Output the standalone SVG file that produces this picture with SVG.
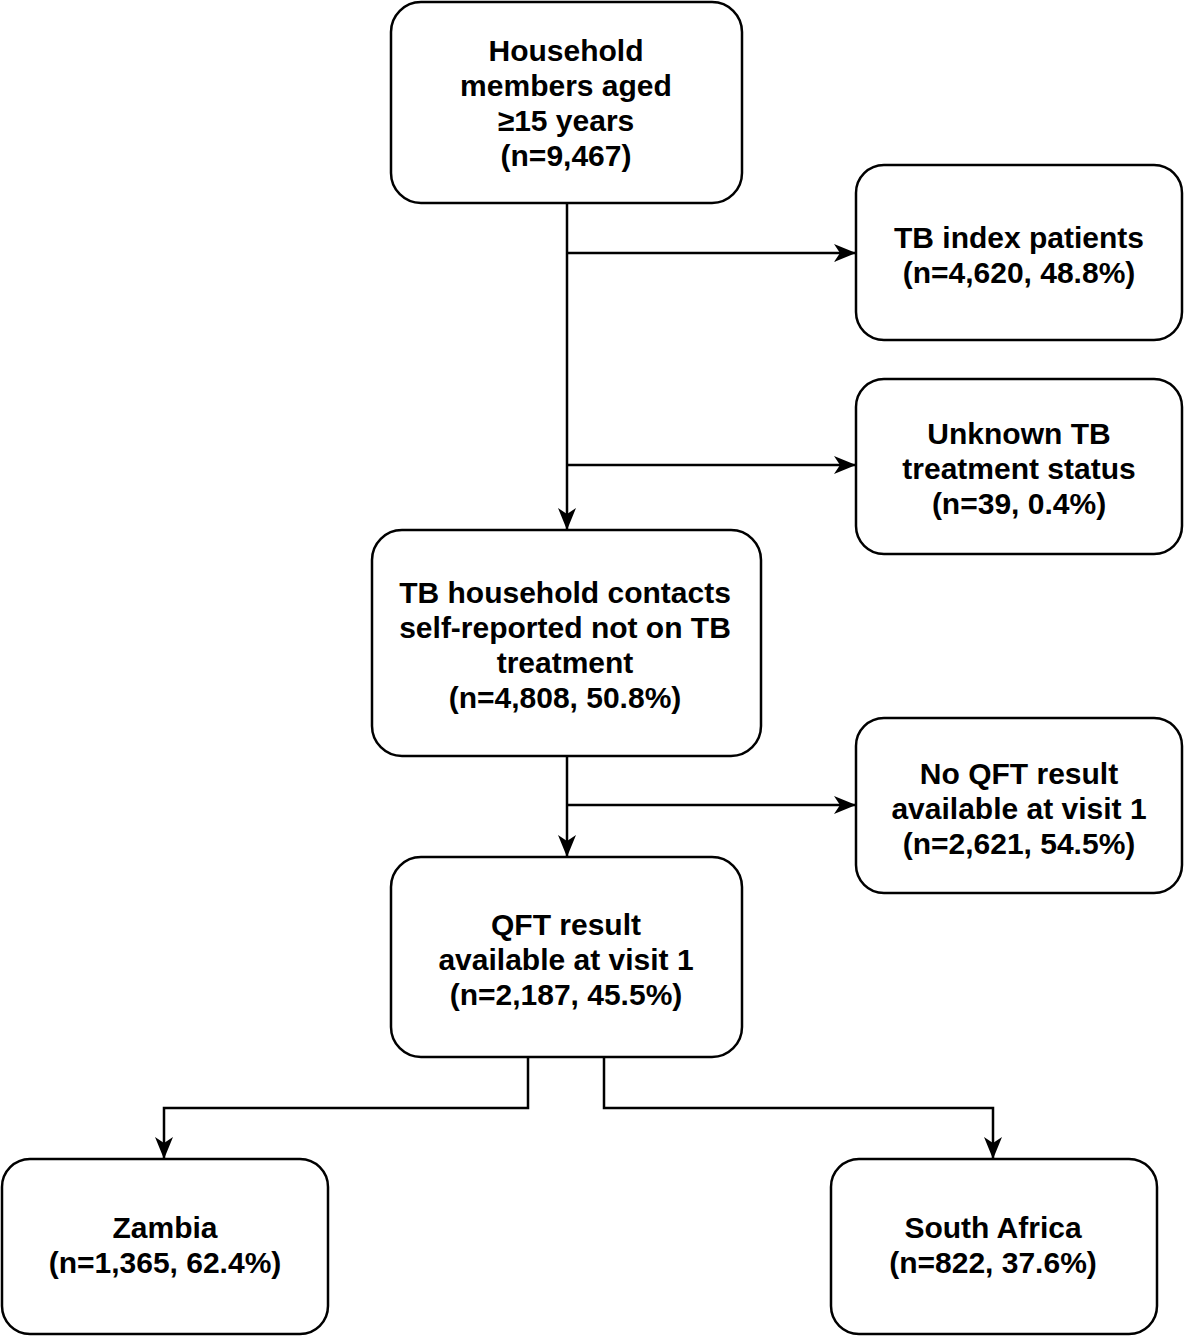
<svg xmlns="http://www.w3.org/2000/svg" width="1184" height="1337" viewBox="0 0 1184 1337">
<style>
.box{fill:#fff;stroke:#000;stroke-width:2.5}
.t{font-family:"Liberation Sans",Arial,sans-serif;font-weight:bold;font-size:30px;text-anchor:middle;fill:#000}
.c{fill:none;stroke:#000;stroke-width:2.5}
</style>
<defs>
<marker id="ah" viewBox="0 0 22 18" refX="22" refY="9" markerWidth="22" markerHeight="18" markerUnits="userSpaceOnUse" orient="auto">
<path d="M0,0 L22,9 L0,18 L6,9 Z" fill="#000"/>
</marker>
</defs>
<rect width="1184" height="1337" fill="#fff"/>
<g id="connectors">
<path class="c" d="M567,203 V530" marker-end="url(#ah)"/>
<path class="c" d="M567,253 H856" marker-end="url(#ah)"/>
<path class="c" d="M567,465 H856" marker-end="url(#ah)"/>
<path class="c" d="M567,756 V857" marker-end="url(#ah)"/>
<path class="c" d="M567,805 H856" marker-end="url(#ah)"/>
<path class="c" d="M528,1057 V1108 H164 V1159" marker-end="url(#ah)"/>
<path class="c" d="M604,1057 V1108 H993 V1159" marker-end="url(#ah)"/>
</g>
<g id="n1">
<rect class="box" x="391" y="2" width="351" height="201" rx="30"/>
<text class="t" x="566" y="61">Household</text>
<text class="t" x="566" y="96">members aged</text>
<text class="t" x="566" y="131">≥15 years</text>
<text class="t" x="566" y="166">(n=9,467)</text>
</g>
<g id="n2">
<rect class="box" x="856" y="165" width="326" height="175" rx="28"/>
<text class="t" x="1019" y="248">TB index patients</text>
<text class="t" x="1019" y="283">(n=4,620, 48.8%)</text>
</g>
<g id="n3">
<rect class="box" x="856" y="379" width="326" height="175" rx="28"/>
<text class="t" x="1019" y="444">Unknown TB</text>
<text class="t" x="1019" y="479">treatment status</text>
<text class="t" x="1019" y="514">(n=39, 0.4%)</text>
</g>
<g id="n4">
<rect class="box" x="372" y="530" width="389" height="226" rx="30"/>
<text class="t" x="565" y="603">TB household contacts</text>
<text class="t" x="565" y="638">self-reported not on TB</text>
<text class="t" x="565" y="673">treatment</text>
<text class="t" x="565" y="708">(n=4,808, 50.8%)</text>
</g>
<g id="n5">
<rect class="box" x="856" y="718" width="326" height="175" rx="28"/>
<text class="t" x="1019" y="784">No QFT result</text>
<text class="t" x="1019" y="819">available at visit 1</text>
<text class="t" x="1019" y="854">(n=2,621, 54.5%)</text>
</g>
<g id="n6">
<rect class="box" x="391" y="857" width="351" height="200" rx="30"/>
<text class="t" x="566" y="935">QFT result</text>
<text class="t" x="566" y="970">available at visit 1</text>
<text class="t" x="566" y="1005">(n=2,187, 45.5%)</text>
</g>
<g id="n7">
<rect class="box" x="2" y="1159" width="326" height="175" rx="28"/>
<text class="t" x="165" y="1238">Zambia</text>
<text class="t" x="165" y="1273">(n=1,365, 62.4%)</text>
</g>
<g id="n8">
<rect class="box" x="831" y="1159" width="326" height="175" rx="28"/>
<text class="t" x="993" y="1238">South Africa</text>
<text class="t" x="993" y="1273">(n=822, 37.6%)</text>
</g>
</svg>
